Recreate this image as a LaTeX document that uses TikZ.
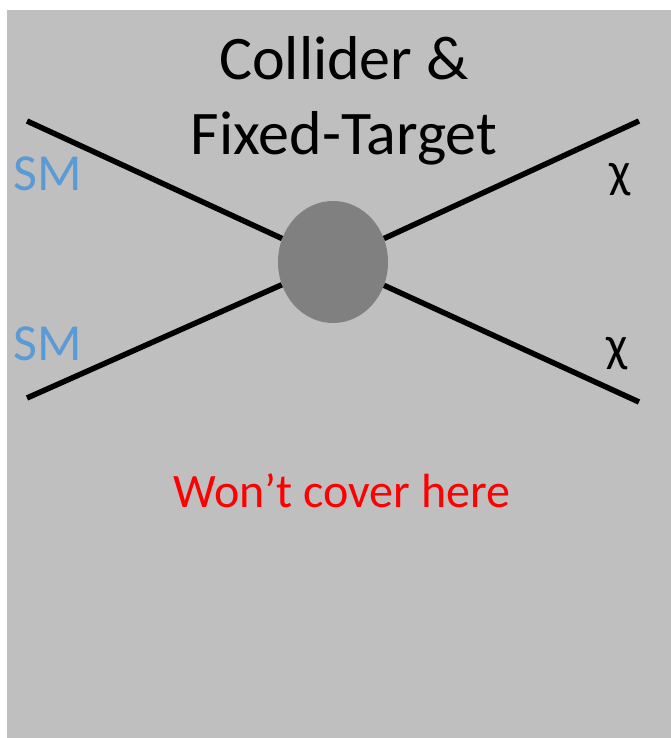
\documentclass[tikz,border=0pt]{standalone}
\usepackage{fontspec}
\setmainfont{Carlito}
\usetikzlibrary{shapes.geometric}
\definecolor{slidegray}{RGB}{191,191,191}
\definecolor{blobgray}{RGB}{128,128,128}
\definecolor{smblue}{RGB}{91,155,213}
\tikzstyle{leg} = [line width=5.5pt, black]
\tikzstyle{blob} = [ellipse, fill=blobgray, minimum width=110pt, minimum height=122pt, inner sep=0pt]
\tikzstyle{smlabel} = [text=smblue, font=\fontsize{52}{60}\selectfont, inner sep=0pt, anchor=base west]
\tikzstyle{chilabel} = [font=\fontsize{50}{60}\selectfont, inner sep=0pt]
\tikzstyle{title} = [font=\fontsize{62}{75}\selectfont, align=center, inner sep=0pt, anchor=base]
\tikzstyle{note} = [text=red, font=\fontsize{48}{56}\selectfont, inner sep=0pt, anchor=base]

\begin{document}
\begin{tikzpicture}[x=1pt, y=-1pt]
\fill [white] (0,0) rectangle (671,738);
\useasboundingbox (0,0) rectangle (671,738);
\fill [slidegray] (7,10) rectangle (671,738);

\node (blob) [blob] at (333,262) {};
\coordinate (in1) at (27,121);
\coordinate (in2) at (27,398);
\coordinate (out1) at (639,121);
\coordinate (out2) at (639,402);

\node (sm1) [smlabel] at (13,190) {SM};
\node (sm2) [smlabel] at (13,360) {SM};
\node (chi1) [chilabel] at (620,180) {χ};
\node (chi2) [chilabel] at (617,354) {χ};
\node (title) [title] at (344,155) {Collider \&\\Fixed-Target};
\node (note) [note] at (342,507) {Won’t cover here};

\draw [leg] (in1) -- (blob);
\draw [leg] (in2) -- (blob);
\draw [leg] (blob) -- (out1);
\draw [leg] (blob) -- (out2);
\end{tikzpicture}
\end{document}
